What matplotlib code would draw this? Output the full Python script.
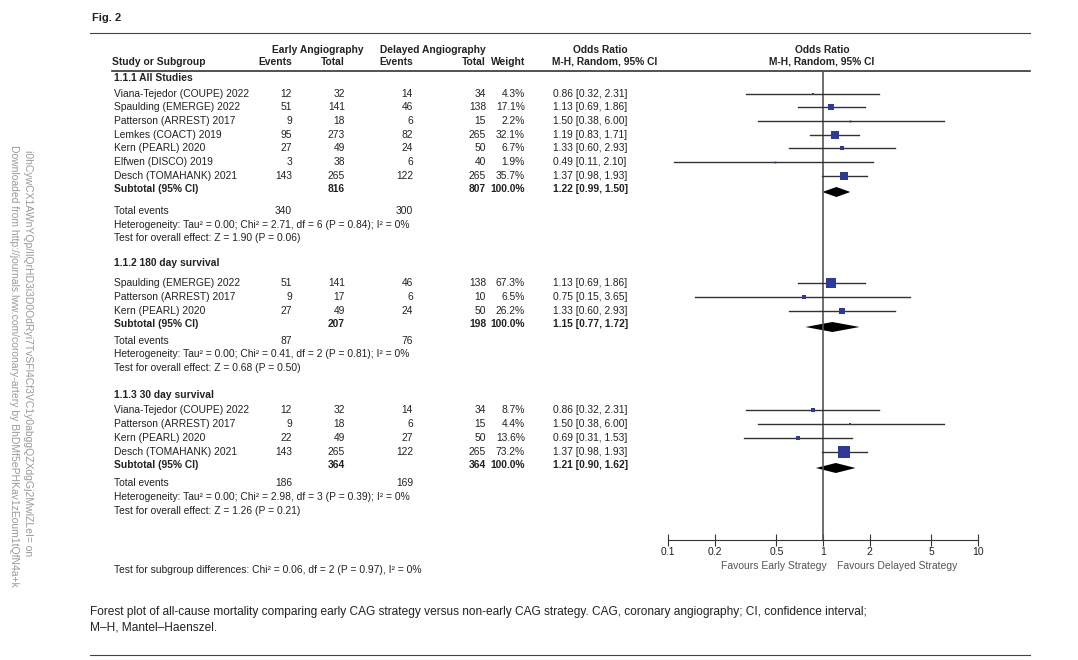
import matplotlib.pyplot as plt
import numpy as np

W, H = 1078, 660

# data: one list per subgroup
g1_names = ['Viana-Tejedor (COUPE) 2022', 'Spaulding (EMERGE) 2022', 'Patterson (ARREST) 2017',
            'Lemkes (COACT) 2019', 'Kern (PEARL) 2020', 'Elfwen (DISCO) 2019', 'Desch (TOMAHANK) 2021']
g1_ee = [12, 51, 9, 95, 27, 3, 143]
g1_et = [32, 141, 18, 273, 49, 38, 265]
g1_de = [14, 46, 6, 82, 24, 6, 122]
g1_dt = [34, 138, 15, 265, 50, 40, 265]
g1_w = [4.3, 17.1, 2.2, 32.1, 6.7, 1.9, 35.7]
g1_or = [0.86, 1.13, 1.50, 1.19, 1.33, 0.49, 1.37]
g1_lo = [0.32, 0.69, 0.38, 0.83, 0.60, 0.11, 0.98]
g1_hi = [2.31, 1.86, 6.00, 1.71, 2.93, 2.10, 1.93]

g2_names = ['Spaulding (EMERGE) 2022', 'Patterson (ARREST) 2017', 'Kern (PEARL) 2020']
g2_ee = [51, 9, 27]
g2_et = [141, 17, 49]
g2_de = [46, 6, 24]
g2_dt = [138, 10, 50]
g2_w = [67.3, 6.5, 26.2]
g2_or = [1.13, 0.75, 1.33]
g2_lo = [0.69, 0.15, 0.60]
g2_hi = [1.86, 3.65, 2.93]

g3_names = ['Viana-Tejedor (COUPE) 2022', 'Patterson (ARREST) 2017', 'Kern (PEARL) 2020', 'Desch (TOMAHANK) 2021']
g3_ee = [12, 9, 22, 143]
g3_et = [32, 18, 49, 265]
g3_de = [14, 6, 27, 122]
g3_dt = [34, 15, 50, 265]
g3_w = [8.7, 4.4, 13.6, 73.2]
g3_or = [0.86, 1.50, 0.69, 1.37]
g3_lo = [0.32, 0.38, 0.31, 0.98]
g3_hi = [2.31, 6.00, 1.53, 1.93]

groups = [
    dict(title='1.1.1 All Studies', names=g1_names, ee=g1_ee, et=g1_et, de=g1_de, dt=g1_dt, w=g1_w,
         orr=g1_or, lo=g1_lo, hi=g1_hi, sub=(816, 807, 1.22, 0.99, 1.50), tot=(340, 300),
         het='Heterogeneity: Tau² = 0.00; Chi² = 2.71, df = 6 (P = 0.84); I² = 0%',
         test='Test for overall effect: Z = 1.90 (P = 0.06)',
         y0=78, rows=[94, 107, 121, 135, 148, 162, 176], ysub=189, yinfo=[211, 225, 238]),
    dict(title='1.1.2 180 day survival', names=g2_names, ee=g2_ee, et=g2_et, de=g2_de, dt=g2_dt, w=g2_w,
         orr=g2_or, lo=g2_lo, hi=g2_hi, sub=(207, 198, 1.15, 0.77, 1.72), tot=(87, 76),
         het='Heterogeneity: Tau² = 0.00; Chi² = 0.41, df = 2 (P = 0.81); I² = 0%',
         test='Test for overall effect: Z = 0.68 (P = 0.50)',
         y0=263, rows=[283, 297, 311], ysub=324, yinfo=[341, 354, 368]),
    dict(title='1.1.3 30 day survival', names=g3_names, ee=g3_ee, et=g3_et, de=g3_de, dt=g3_dt, w=g3_w,
         orr=g3_or, lo=g3_lo, hi=g3_hi, sub=(364, 364, 1.21, 0.90, 1.62), tot=(186, 169),
         het='Heterogeneity: Tau² = 0.00; Chi² = 2.98, df = 3 (P = 0.39); I² = 0%',
         test='Test for overall effect: Z = 1.26 (P = 0.21)',
         y0=395, rows=[410, 424, 438, 452], ysub=465, yinfo=[483, 497, 511]),
]
ticks = [0.1, 0.2, 0.5, 1, 2, 5, 10]
tick_labels = ['0.1', '0.2', '0.5', '1', '2', '5', '10']

plt.rcParams['font.family'] = ['Liberation Sans', 'DejaVu Sans']
fig = plt.figure(figsize=(W / 100, H / 100), dpi=100)
ax = fig.add_axes([0, 0, 1, 1])
ax.set_xlim(0, W)
ax.set_ylim(H, 0)
ax.axis('off')

fs = 7.4
tc = '#222222'

def t(x, y, s, ha='left', bold=False, size=fs, color=tc, **kw):
    kw.setdefault('va', 'center')
    ax.text(x, y, s, ha=ha, fontsize=size, color=color,
            fontweight='bold' if bold else 'normal', **kw)

t(92, 18, 'Fig. 2', bold=True, size=8)
ax.plot([90, 1030], [33, 33], color='#444444', lw=0.8)

# column headers
t(318, 50, 'Early Angiography', ha='center', bold=True)
t(433, 50, 'Delayed Angiography', ha='center', bold=True)
t(600, 50, 'Odds Ratio', ha='center', bold=True)
t(822, 50, 'Odds Ratio', ha='center', bold=True)
t(112, 62, 'Study or Subgroup', bold=True)
for x, s in [(292, 'Events'), (345, 'Total'), (413, 'Events'), (486, 'Total'), (525, 'Weight')]:
    t(x, 62, s, ha='right', bold=True)
t(605, 62, 'M-H, Random, 95% CI', ha='center', bold=True)
t(822, 62, 'M-H, Random, 95% CI', ha='center', bold=True)
ax.plot([112, 1030], [71, 71], color='#333333', lw=1.2)

for g in groups:
    t(114, g['y0'], g['title'], bold=True)
    for i, y in enumerate(g['rows']):
        t(114, y, g['names'][i])
        t(292, y, str(g['ee'][i]), ha='right')
        t(345, y, str(g['et'][i]), ha='right')
        t(413, y, str(g['de'][i]), ha='right')
        t(486, y, str(g['dt'][i]), ha='right')
        t(525, y, '%.1f%%' % g['w'][i], ha='right')
        t(553, y, '%.2f [%.2f, %.2f]' % (g['orr'][i], g['lo'][i], g['hi'][i]))
    et, dt, o, lo, hi = g['sub']
    y = g['ysub']
    t(114, y, 'Subtotal (95% CI)', bold=True)
    t(345, y, str(et), ha='right', bold=True)
    t(486, y, str(dt), ha='right', bold=True)
    t(525, y, '100.0%', ha='right', bold=True)
    t(553, y, '%.2f [%.2f, %.2f]' % (o, lo, hi), bold=True)
    t(114, g['yinfo'][0], 'Total events')
    t(292, g['yinfo'][0], str(g['tot'][0]), ha='right')
    t(413, g['yinfo'][0], str(g['tot'][1]), ha='right')
    t(114, g['yinfo'][1], g['het'])
    t(114, g['yinfo'][2], g['test'])

t(114, 570, 'Test for subgroup differences: Chi² = 0.06, df = 2 (P = 0.97), I² = 0%')

# forest panel, log x, pixel y
fx0, fx1, fy0, fy1 = 668, 978, 71, 540
fa = fig.add_axes([fx0 / W, 1 - fy1 / H, (fx1 - fx0) / W, (fy1 - fy0) / H])
fa.set_xscale('log')
fa.set_xlim(0.1, 10)
fa.set_ylim(fy1, fy0)
fa.patch.set_alpha(0)
for s in ['top', 'right', 'left']:
    fa.spines[s].set_visible(False)
fa.spines['bottom'].set_color('#333333')
fa.set_yticks([])
fa.set_xticks(ticks)
fa.set_xticklabels(tick_labels, fontsize=7.5, color=tc)
fa.minorticks_off()
fa.tick_params(axis='x', direction='inout', length=8, pad=1, color='#333333')
fa.axvline(1, color='#555555', lw=1.2)

for g in groups:
    for i, y in enumerate(g['rows']):
        fa.plot([g['lo'][i], g['hi'][i]], [y, y], color='#333333', lw=1)
        side = 1.3 * np.sqrt(g['w'][i]) * 0.72
        fa.plot(g['orr'][i], y, 's', color='#2e3a97', ms=side, mew=0)
    et, dt, o, lo, hi = g['sub']
    y = g['ysub'] + 3
    fa.fill([lo, o, hi, o], [y, y - 5, y, y + 5], color='black', lw=0)

fa.text(0.34, -0.045, 'Favours Early Strategy', transform=fa.transAxes, ha='center',
        va='top', fontsize=7.5, color='#555555')
fa.text(0.74, -0.045, 'Favours Delayed Strategy', transform=fa.transAxes, ha='center',
        va='top', fontsize=7.5, color='#555555')

# caption
t(90, 612, 'Forest plot of all-cause mortality comparing early CAG strategy versus non-early CAG strategy. CAG, coronary angiography; CI, confidence interval;', size=8.6)
t(90, 628, 'M\u2013H, Mantel\u2013Haenszel.', size=8.6)
ax.plot([90, 1030], [655, 655], color='#444444', lw=0.8)

# side watermark
t(14, 145, 'Downloaded from http://journals.lww.com/coronary-artery by BhDMf5ePHKav1zEoum1tQfN4a+k',
  size=7.5, color='#999999', rotation=-90, ha='center', va='top')
t(28, 150, 'i0hCywCX1AWnYQp/IlQrHD3i3D0OdRyi7TvSFl4Cf3VC1y0abggQZXdgGj2MwlZLeI= on',
  size=7.5, color='#999999', rotation=-90, ha='center', va='top')

fig.savefig('out.png', dpi=100)
